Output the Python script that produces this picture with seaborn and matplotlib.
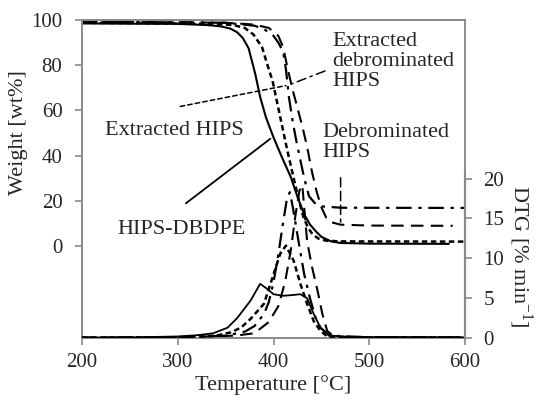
import numpy as np
import pandas as pd
import matplotlib
matplotlib.use('Agg')
import matplotlib.pyplot as plt
import seaborn as sns


# TGA curves (weight, wt%)
t_hips_dbdpe = [200, 300, 330, 345, 355, 362, 368, 374, 381, 386, 392, 400, 409, 418, 426, 432, 438, 444, 450, 460, 470, 500, 583]
w_hips_dbdpe = [98.5, 98.3, 97.8, 97.2, 96.2, 94.6, 92, 87.5, 76, 66, 57, 48, 39, 30.5, 20.5, 14, 9.5, 6.5, 4, 2, 1.3, 1.0, 0.9]

t_ext_hips = [200, 300, 340, 358, 370, 379, 388, 393, 399, 404, 409, 414, 421, 426, 431, 436, 441, 447, 455, 470, 600]
w_ext_hips = [98.8, 98.5, 98.2, 97.8, 96.5, 93.6, 88, 81, 73, 63, 53, 43, 30, 21, 13, 8, 5, 3.2, 2.3, 2.0, 1.9]

t_ext_debr = [200, 300, 350, 380, 390, 400, 405, 410, 413, 416, 420, 424, 428, 432, 437, 443, 450, 470, 600]
w_ext_debr = [99.2, 99.0, 98.8, 97.5, 96.0, 93.0, 90.0, 86.0, 78, 66, 55, 46, 38, 30, 22, 19, 17.5, 16.9, 16.8]

t_debr = [200, 300, 350, 380, 395, 405, 410, 415, 420, 425, 430, 435, 440, 445, 450, 455, 460, 470, 500, 587]
w_debr = [99.2, 99.0, 98.8, 98.0, 96.5, 93.0, 88, 78, 69, 61, 53, 44, 33, 24, 17, 12.5, 10.5, 9.4, 9.0, 8.9]

# DTG curves (% min-1)
td_hips_dbdpe = [200, 260, 300, 320, 337, 352, 362, 376, 386, 393, 400, 410, 420, 428, 435, 442, 449, 459, 480, 520, 560, 600]
d_hips_dbdpe = [0.05, 0.1, 0.2, 0.35, 0.6, 1.3, 2.5, 4.7, 6.8, 6.2, 5.5, 5.3, 5.4, 5.5, 5.0, 3.0, 1.3, 0.3, 0.15, 0.1, 0.1, 0.05]

td_ext_hips = [200, 300, 340, 355, 366, 376, 390, 400, 407, 413, 421, 428, 435, 442, 449, 456, 480, 540, 600]
d_ext_hips = [0.05, 0.1, 0.3, 0.7, 1.3, 2.4, 4.3, 8.0, 10.6, 11.6, 9.7, 6.8, 4.3, 2.1, 0.9, 0.2, 0.1, 0.1, 0.05]

td_ext_debr = [200, 300, 350, 370, 380, 390, 395, 400, 405, 410, 414, 417, 420, 426, 432, 438, 444, 449, 458, 500, 600]
d_ext_debr = [0.05, 0.1, 0.3, 0.8, 1.5, 3.0, 4.5, 7.0, 10.5, 14.5, 17.5, 18.3, 16.5, 12.2, 8.0, 5.0, 2.5, 1.3, 0.3, 0.1, 0.1]

td_debr = [200, 300, 360, 380, 395, 405, 412, 418, 423, 427, 430, 435, 440, 446, 451, 456, 462, 472, 500, 600]
d_debr = [0.05, 0.1, 0.3, 0.6, 2.0, 4.0, 7.0, 11.0, 15.5, 18.5, 19.2, 12.2, 9.0, 5.9, 3.0, 0.9, 0.3, 0.1, 0.1, 0.05]

x_ticks = [200, 300, 400, 500, 600]
w_ticks = [0, 20, 40, 60, 80, 100]
d_ticks = [0, 5, 10, 15, 20]

solid = '-'
short_dash = (0, (2.2, 1.4))
dash_dot = (0, (7, 3, 1.5, 3))
long_dash = (0, (6, 3.5))

sns.set_style('ticks')
plt.rcParams['font.family'] = ['Liberation Serif', 'DejaVu Serif']
plt.rcParams['mathtext.fontset'] = 'custom'
plt.rcParams['mathtext.rm'] = 'Liberation Serif'

fig = plt.figure(figsize=(5.39, 4.01), dpi=100)
ax = fig.add_axes([0.152, 0.157, 0.711, 0.793])
ax2 = ax.twinx()

# weight curves
sns.lineplot(x=t_hips_dbdpe, y=w_hips_dbdpe, ax=ax, color='k', lw=1.5, linestyle=solid)
sns.lineplot(x=t_ext_hips, y=w_ext_hips, ax=ax, color='k', lw=1.8, linestyle=short_dash)
sns.lineplot(x=t_ext_debr, y=w_ext_debr, ax=ax, color='k', lw=1.6, linestyle=dash_dot)
sns.lineplot(x=t_debr, y=w_debr, ax=ax, color='k', lw=1.5, linestyle=long_dash)

# DTG curves
sns.lineplot(x=td_hips_dbdpe, y=d_hips_dbdpe, ax=ax2, color='k', lw=1.3, linestyle=solid)
sns.lineplot(x=td_ext_hips, y=d_ext_hips, ax=ax2, color='k', lw=1.8, linestyle=short_dash)
sns.lineplot(x=td_ext_debr, y=d_ext_debr, ax=ax2, color='k', lw=1.6, linestyle=dash_dot)
sns.lineplot(x=td_debr, y=d_debr, ax=ax2, color='k', lw=1.5, linestyle=long_dash)

ax.set_xlim(200, 600)
ax.set_ylim(-40.8, 100)
ax2.set_ylim(0, 39.9)
ax.set_xticks(x_ticks)
ax.set_yticks(w_ticks)
ax2.set_yticks(d_ticks)

spine_col = '#8a8a8a'
for s in ax.spines.values():
    s.set_visible(True)
    s.set_color(spine_col)
    s.set_linewidth(1.4)
for name, s in ax2.spines.items():
    s.set_visible(name == 'right')
    s.set_color(spine_col)
    s.set_linewidth(1.6)
ax2.spines['right'].set_bounds(0, 20.8)

ax.tick_params(axis='both', direction='out', length=5, width=1.2, color=spine_col, labelsize=15)
ax.tick_params(axis='y', pad=9)
ax.tick_params(axis='x', pad=6)
ax2.tick_params(axis='y', direction='out', length=5, width=1.2, color=spine_col, labelsize=15, pad=8)

ax.set_xlabel('Temperature [°C]', fontsize=16, labelpad=2)
ax.set_ylabel('Weight [wt%]', fontsize=16)
ax.yaxis.set_label_coords(-0.141, 0.645)
ax2.set_ylabel('DTG [% min$^{-1}$]', fontsize=16, rotation=270, va='center')
ax2.yaxis.set_label_coords(1.144, 0.258)

# labels and leader lines
ax.text(461.6, 94.5, 'Extracted\ndebrominated\nHIPS', fontsize=16, va='top', ha='left', linespacing=1.05)
ax.text(451, 54.5, 'Debrominated\nHIPS', fontsize=16, va='top', ha='left', linespacing=1.05)
ax.text(224.5, 51.3, 'Extracted HIPS', fontsize=16, va='center', ha='left')
ax.text(237, 7.1, 'HIPS-DBDPE', fontsize=16, va='center', ha='left')

ax.annotate('', xy=(399, 48.2), xytext=(306.2, 18.1),
            arrowprops=dict(arrowstyle='-', color='k', lw=1.3))
ax.annotate('', xy=(415.7, 71.2), xytext=(299.7, 61.5),
            arrowprops=dict(arrowstyle='-', color='k', lw=1.1, linestyle=(0, (3, 2))))
ax.annotate('', xy=(415.7, 71.2), xytext=(456.4, 77.9),
            arrowprops=dict(arrowstyle='-', color='k', lw=1.1, linestyle=(0, (6, 3, 1.5, 3))))
ax.annotate('', xy=(470, 9.3), xytext=(470, 31.4),
            arrowprops=dict(arrowstyle='-', color='k', lw=1.1, linestyle=(0, (6, 3))))

fig.savefig('out.png', dpi=100)
